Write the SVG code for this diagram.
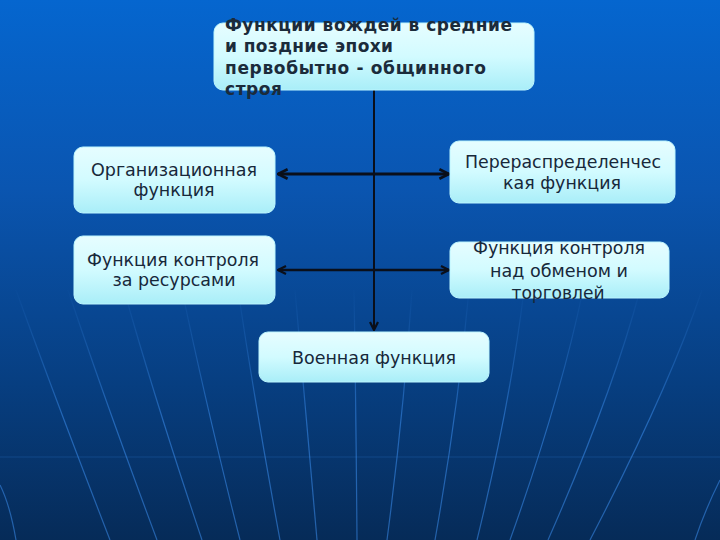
<svg xmlns="http://www.w3.org/2000/svg" width="720" height="540" viewBox="0 0 720 540">
<defs>
<linearGradient id="bg" x1="0" y1="0" x2="0" y2="1">
<stop offset="0" stop-color="#0566cf"/>
<stop offset="0.35" stop-color="#0a55b0"/>
<stop offset="0.7" stop-color="#073f82"/>
<stop offset="1" stop-color="#062b58"/>
</linearGradient>
<linearGradient id="box" x1="0" y1="0" x2="0" y2="1">
<stop offset="0" stop-color="#e6fdff"/>
<stop offset="0.5" stop-color="#d2fbff"/>
<stop offset="1" stop-color="#a9eef8"/>
</linearGradient>
<linearGradient id="fade" gradientUnits="userSpaceOnUse" x1="0" y1="285" x2="0" y2="420">
<stop offset="0" stop-color="#3a8cec" stop-opacity="0"/>
<stop offset="1" stop-color="#3a8cec" stop-opacity="0.55"/>
</linearGradient>
<marker id="arr" viewBox="0 0 10 10" refX="9" refY="5" markerWidth="4" markerHeight="4" orient="auto-start-reverse" markerUnits="strokeWidth">
<polyline points="1,1 9,5 1,9" fill="none" stroke="#0a0f1a" stroke-width="2.2"/>
</marker>
<marker id="arr2" viewBox="0 0 10 10" refX="9" refY="5" markerWidth="5" markerHeight="5" orient="auto" markerUnits="strokeWidth">
<polyline points="1,1 9,5 1,9" fill="none" stroke="#0a0f1a" stroke-width="2.2"/>
</marker>
</defs>
<style>
.box{fill:url(#box);stroke:#bdf6ff;stroke-width:1}
.t{font-family:"DejaVu Sans Condensed","DejaVu Sans",sans-serif;font-stretch:condensed;font-size:18px;fill:#17283a;text-anchor:middle}
.tb{font-family:"DejaVu Sans","Liberation Sans",sans-serif;font-weight:bold;font-size:17px;fill:#1b2b3b}
.mer{fill:none;stroke:url(#fade);stroke-width:1.2}
.con{fill:none;stroke:#0a0f1a}
</style>
<rect x="0" y="0" width="720" height="540" fill="url(#bg)"/>
<g id="background-lines">
<path d="M0,457 H720" fill="none" stroke="#3a8cec" stroke-opacity="0.22" stroke-width="1"/>
<path class="mer" d="M16,290 Q52,390 110,540"/>
<path class="mer" d="M68,290 Q103,395 157,540"/>
<path class="mer" d="M124,290 Q155,400 202,540"/>
<path class="mer" d="M182,290 Q206,405 240,540"/>
<path class="mer" d="M238,290 Q256,410 280,540"/>
<path class="mer" d="M295,290 Q305,410 317,540"/>
<path class="mer" d="M354,290 Q356,410 357,540"/>
<path class="mer" d="M412,290 Q404,410 387,540"/>
<path class="mer" d="M469,290 Q458,410 435,540"/>
<path class="mer" d="M524,290 Q510,405 477,540"/>
<path class="mer" d="M583,290 Q560,400 510,540"/>
<path class="mer" d="M640,290 Q612,395 548,540"/>
<path class="mer" d="M702,290 Q668,390 590,540"/>
<path class="mer" d="M0,485 Q10,505 16,540"/>
<path class="mer" d="M720,480 Q705,510 695,540"/>
</g>
<g id="connectors">
<line class="con" x1="374" y1="90" x2="374" y2="330" stroke-width="2" marker-end="url(#arr2)"/>
<line class="con" x1="278" y1="174" x2="449" y2="174" stroke-width="3" marker-start="url(#arr)" marker-end="url(#arr)"/>
<line class="con" x1="278" y1="270" x2="449" y2="270" stroke-width="2.5" marker-start="url(#arr)" marker-end="url(#arr)"/>
</g>
<g id="node-top">
<rect class="box" x="214" y="23" width="320" height="67" rx="9"/>
<text class="tb" x="225" y="31" textLength="287" lengthAdjust="spacing">Функции вождей в средние</text>
<text class="tb" x="225" y="52" textLength="168" lengthAdjust="spacing">и поздние эпохи</text>
<text class="tb" x="225" y="74" textLength="261" lengthAdjust="spacing">первобытно - общинного</text>
<text class="tb" x="225" y="95" textLength="57" lengthAdjust="spacing">строя</text>
</g>
<g id="node-org">
<rect class="box" x="74" y="147" width="201" height="66" rx="9"/>
<text class="t" x="174" y="176" textLength="166" lengthAdjust="spacingAndGlyphs">Организационная</text>
<text class="t" x="174" y="196" textLength="81" lengthAdjust="spacingAndGlyphs">функция</text>
</g>
<g id="node-redistr">
<rect class="box" x="450" y="141" width="225" height="62" rx="9"/>
<text class="t" x="563" y="168" textLength="196" lengthAdjust="spacingAndGlyphs">Перераспределенчес</text>
<text class="t" x="562" y="189" textLength="118" lengthAdjust="spacingAndGlyphs">кая функция</text>
</g>
<g id="node-resources">
<rect class="box" x="74" y="236" width="201" height="68" rx="9"/>
<text class="t" x="173" y="266" textLength="172" lengthAdjust="spacingAndGlyphs">Функция контроля</text>
<text class="t" x="174" y="286" textLength="123" lengthAdjust="spacingAndGlyphs">за ресурсами</text>
</g>
<g id="node-trade">
<rect class="box" x="450" y="242" width="219" height="56" rx="9"/>
<text class="t" x="559" y="254" textLength="172" lengthAdjust="spacingAndGlyphs">Функция контроля</text>
<text class="t" x="559" y="277" textLength="138" lengthAdjust="spacingAndGlyphs">над обменом и</text>
<text class="t" x="558" y="299" textLength="93" lengthAdjust="spacingAndGlyphs">торговлей</text>
</g>
<g id="node-military">
<rect class="box" x="259" y="332" width="230" height="50" rx="9"/>
<text class="t" x="374" y="364" textLength="164" lengthAdjust="spacingAndGlyphs">Военная функция</text>
</g>
</svg>
